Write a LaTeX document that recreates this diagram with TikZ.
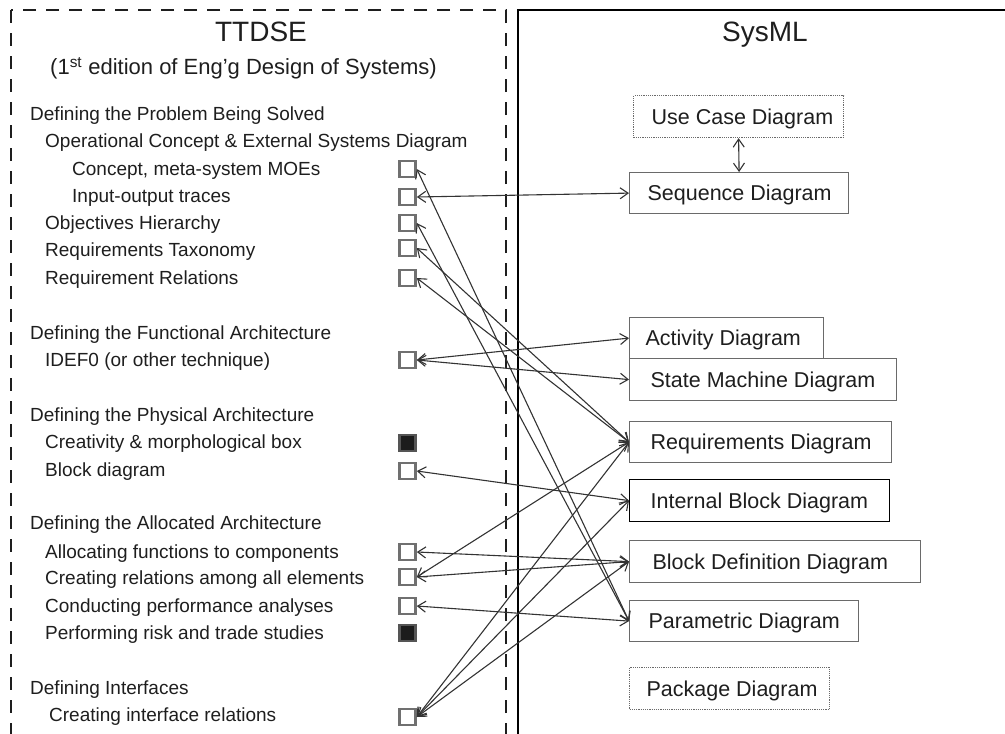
\documentclass[tikz,border=0pt]{standalone}
\usepackage{fontspec}
\setmainfont{Liberation Sans}
\usetikzlibrary{arrows.meta}

\definecolor{ink}{HTML}{1E1E1E}
\definecolor{wire}{HTML}{333333}
\definecolor{boxline}{HTML}{6A6A6A}
\definecolor{tick}{HTML}{707070}
\definecolor{tickfill}{HTML}{1C1C1C}

\begin{document}
\begin{tikzpicture}[x=1pt,y=-1pt,
  >={Straight Barb[length=8pt,width=11pt]},
  title/.style={inner sep=0pt, text height=20pt, text depth=0pt,
    font=\fontsize{28}{32}\selectfont, text=ink},
  item/.style={anchor=west, inner sep=0pt, text height=13.6pt, text depth=0pt,
    font=\fontsize{19}{22}\selectfont, text=ink},
  checkbox/.style={draw=tick, line width=2.6pt, fill=white, minimum size=16pt,
    inner sep=0pt},
  checked/.style={checkbox, fill=tickfill, draw=boxline!80!black},
  sysbox/.style={draw=boxline, line width=1.2pt, anchor=north west, inner sep=0pt,
    text height=15.5pt, text depth=0pt, font=\fontsize{21.5}{24}\selectfont, text=ink},
  optbox/.style={sysbox, densely dotted, draw=boxline},
  conn/.style={<->, draw=wire, line width=1.1pt},
  dashframe/.style={draw=ink, line width=2.6pt, dash pattern=on 13pt off 10pt},
  solidframe/.style={draw=black, line width=2.6pt}
]
\useasboundingbox (0,0) rectangle (1005,734);

% frames of the two columns
\draw[dashframe] (11,10) rectangle (506,735);
\draw[solidframe] (518,735) -- (518,10) -- (1012,10);
\draw[solidframe] (518,735) -- (1012,735);

% ---- TTDSE column ----
\node[title] (ttdse) at (261,31) {TTDSE};
\node[item, font=\fontsize{22}{26}\selectfont, text height=15.8pt] (edition) at (50,67)
  {(1\textsuperscript{st} edition of Eng’g Design of Systems)};

\node[item] (p1)   at (30,114) {Defining the Problem Being Solved};
\node[item] (p1a)  at (45,141) {Operational Concept \& External Systems Diagram};
\node[item] (p1a1) at (72,169) {Concept, meta-system MOEs};
\node[item] (p1a2) at (72,196) {Input-output traces};
\node[item] (p1b)  at (45,223) {Objectives Hierarchy};
\node[item] (p1c)  at (45,250) {Requirements Taxonomy};
\node[item] (p1d)  at (45,278) {Requirement Relations};

\node[item] (p2)   at (30,333) {Defining the Functional Architecture};
\node[item] (p2a)  at (45,360) {IDEF0 (or other technique)};

\node[item] (p3)   at (30,415) {Defining the Physical Architecture};
\node[item] (p3a)  at (45,442) {Creativity \& morphological box};
\node[item] (p3b)  at (45,470) {Block diagram};

\node[item] (p4)   at (30,523) {Defining the Allocated Architecture};
\node[item] (p4a)  at (45,552) {Allocating functions to components};
\node[item] (p4b)  at (45,578) {Creating relations among all elements};
\node[item] (p4c)  at (45,606) {Conducting performance analyses};
\node[item] (p4d)  at (45,633) {Performing risk and trade studies};

\node[item] (p5)   at (30,688) {Defining Interfaces};
\node[item] (p5a)  at (49,715) {Creating interface relations};

% check boxes
\node[checkbox] (ck1)  at (407.5,169) {};
\node[checkbox] (ck2)  at (407.5,197) {};
\node[checkbox] (ck3)  at (407.5,223) {};
\node[checkbox] (ck4)  at (407.5,248) {};
\node[checkbox] (ck5)  at (407.5,278) {};
\node[checkbox] (ck6)  at (407.5,360) {};
\node[checked]  (ck7)  at (407.5,443) {};
\node[checkbox] (ck8)  at (407.5,471) {};
\node[checkbox] (ck9)  at (407.5,552) {};
\node[checkbox] (ck10) at (407.5,577) {};
\node[checkbox] (ck11) at (407.5,606) {};
\node[checked]  (ck12) at (407.5,633) {};
\node[checkbox] (ck13) at (407.5,717) {};

% ---- SysML column ----
\node[title] (sysml) at (765,31) {SysML};

\node[optbox, minimum height=42pt] (uc)  at (633,95)  {\makebox[210pt][l]{\hspace{18pt}Use Case Diagram}};
\node[sysbox, minimum height=41pt] (seq) at (629,172) {\makebox[219pt][l]{\hspace{18pt}Sequence Diagram}};
\node[sysbox, minimum height=41pt] (act) at (629,317) {\makebox[194pt][l]{\hspace{16pt}Activity Diagram}};
\node[sysbox, minimum height=42pt] (sm)  at (629,358) {\makebox[267pt][l]{\hspace{21pt}State Machine Diagram}};
\node[sysbox, minimum height=41pt] (req) at (629,421) {\makebox[262pt][l]{\hspace{21pt}Requirements Diagram}};
\node[sysbox, minimum height=42pt, draw=black] (ibd) at (629,479) {\makebox[260pt][l]{\hspace{21pt}Internal Block Diagram}};
\node[sysbox, minimum height=42pt] (bdd) at (629,540) {\makebox[291pt][l]{\hspace{23pt}Block Definition Diagram}};
\node[sysbox, minimum height=41pt] (par) at (629,600) {\makebox[229pt][l]{\hspace{19pt}Parametric Diagram}};
\node[optbox, minimum height=42pt] (pkg) at (629,667) {\makebox[200pt][l]{\hspace{17pt}Package Diagram}};

% ---- trace links ----
\draw[conn] (uc.south)  -- (seq.north);
\draw[conn] (ck2.east)  -- (seq.west);
\draw[conn] (ck1.east)  -- (par.west);
\draw[conn] (ck3.east)  -- (par.west);
\draw[conn] (ck4.east)  -- (req.west);
\draw[conn] (ck5.east)  -- (req.west);
\draw[conn] (ck6.east)  -- (act.west);
\draw[conn] (ck6.east)  -- (sm.west);
\draw[conn] (ck8.east)  -- (ibd.west);
\draw[conn] (ck9.east)  -- (bdd.west);
\draw[conn] (ck10.east) -- (bdd.west);
\draw[conn] (ck10.east) -- (req.west);
\draw[conn] (ck11.east) -- (par.west);
\draw[conn] (ck13.east) -- (req.west);
\draw[conn] (ck13.east) -- (ibd.west);
\draw[conn] (ck13.east) -- (bdd.west);
\end{tikzpicture}
\end{document}
